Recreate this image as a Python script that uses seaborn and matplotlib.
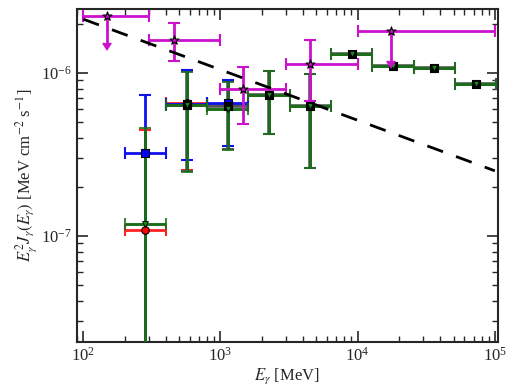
import numpy as np
import pandas as pd
import matplotlib
matplotlib.use("Agg")
import matplotlib.pyplot as plt
import seaborn as sns

# ---- data ----
bin_lo = [200, 400, 800, 1600, 3200, 6400, 12800, 25600, 51200]
bin_hi = [400, 800, 1600, 3200, 6400, 12800, 25600, 51200, 102400]
bin_c = [283, 566, 1131, 2263, 4525, 9051, 18102, 36204, 72408]

# red circles (bins 1-2)
red_y = [1.09e-7, 6.5e-7]
red_up = [4.5e-7, 1.03e-6]
red_dn = [1e-9, 2.54e-7]

# blue squares (bins 1-3)
blue_y = [3.23e-7, 6.45e-7, 6.5e-7]
blue_up = [7.33e-7, 1.04e-6, 9.06e-7]
blue_dn = [1e-9, 2.92e-7, 3.56e-7]

# green triangles (bins 1-9)
green_y = [1.18e-7, 6.35e-7, 6.05e-7, 7.33e-7, 6.27e-7, 1.31e-6, 1.10e-6, 1.08e-6, 8.52e-7]
green_up = [4.6e-7, 1.02e-6, 8.8e-7, 1.03e-6, 9.86e-7, 1.31e-6, 1.10e-6, 1.08e-6, 8.52e-7]
green_dn = [1e-9, 2.47e-7, 3.37e-7, 4.22e-7, 2.61e-7, 1.31e-6, 1.10e-6, 1.08e-6, 8.52e-7]

# black squares (bins 2-9)
black_y = [6.4e-7, 6.27e-7, 7.33e-7, 6.27e-7, 1.31e-6, 1.10e-6, 1.08e-6, 8.52e-7]
black_up = [1.03e-6, 8.9e-7, 1.03e-6, 9.86e-7, 1.31e-6, 1.10e-6, 1.08e-6, 8.52e-7]
black_dn = [2.5e-7, 3.4e-7, 4.22e-7, 2.61e-7, 1.31e-6, 1.10e-6, 1.08e-6, 8.52e-7]

# magenta stars
mag_x = [150, 456, 1468, 4490, 17600]
mag_lo = [100, 300, 1000, 3000, 10000]
mag_hi = [300, 1000, 3000, 10000, 100000]
mag_y = [2.24e-6, 1.594e-6, 7.97e-7, 1.136e-6, 1.81e-6]
mag_up = [2.24e-6, 2.03e-6, 1.088e-6, 1.594e-6, 1.81e-6]
mag_dn = [1.53e-6, 1.185e-6, 4.86e-7, 6.73e-7, 1.185e-6]
mag_ul = [True, False, False, False, True]

# dashed power law
line_E = [100, 1e5]
line_y = [2.14e-6, 2.51e-7]

MAG = '#cc11cc'

# ---- style ----
sns.set_style("ticks")
plt.rcParams['font.family'] = ['Liberation Serif', 'DejaVu Serif']
plt.rcParams['mathtext.fontset'] = 'stix'

fig = plt.figure(figsize=(5.1, 3.92), dpi=100)
ax = fig.add_axes([0.151, 0.128, 0.825, 0.849])
ax.set_xscale('log')
ax.set_yscale('log')

def xerr_of(c, lo, hi, idx):
    c = np.array(c); lo = np.array(lo)[idx]; hi = np.array(hi)[idx]
    return [c - lo, hi - c]

def yerr_of(y, up, dn):
    y = np.array(y)
    return [y - np.array(dn), np.array(up) - y]

ekw = dict(fmt='none', elinewidth=2, capsize=4, capthick=1.5)

# red
idx = [0, 1]
ax.errorbar(np.array(bin_c)[idx], red_y, xerr=xerr_of(np.array(bin_c)[idx], bin_lo, bin_hi, idx),
            yerr=yerr_of(red_y, red_up, red_dn), ecolor='#ff2020', zorder=2, **ekw)
# black (gray bars)
idx = list(range(1, 9))
ax.errorbar(np.array(bin_c)[idx], black_y, xerr=xerr_of(np.array(bin_c)[idx], bin_lo, bin_hi, idx),
            yerr=yerr_of(black_y, black_up, black_dn), ecolor='#555555', zorder=3,
            fmt='none', elinewidth=2.6, capsize=4, capthick=1.5)
# blue
idx = [0, 1, 2]
ax.errorbar(np.array(bin_c)[idx], blue_y, xerr=xerr_of(np.array(bin_c)[idx], bin_lo, bin_hi, idx),
            yerr=yerr_of(blue_y, blue_up, blue_dn), ecolor='#1010ee', zorder=3.5, **ekw)
# green
idx = list(range(9))
ax.errorbar(np.array(bin_c)[idx], green_y, xerr=xerr_of(np.array(bin_c)[idx], bin_lo, bin_hi, idx),
            yerr=yerr_of(green_y, green_up, green_dn), ecolor='#1a6e1a', zorder=4,
            fmt='none', elinewidth=2.1, capsize=4, capthick=1.2)

# markers via seaborn
df_red = pd.DataFrame({'E': bin_c[:2], 'y': red_y})
df_blue = pd.DataFrame({'E': bin_c[:3], 'y': blue_y})
df_black = pd.DataFrame({'E': bin_c[1:], 'y': black_y})
df_green = pd.DataFrame({'E': bin_c, 'y': green_y})
sns.scatterplot(data=df_red, x='E', y='y', ax=ax, marker='o', color='red', edgecolor='black',
                s=30, linewidth=0.8, zorder=5)
sns.scatterplot(data=df_blue, x='E', y='y', ax=ax, marker='s', color='#0000ff', edgecolor='black',
                s=35, linewidth=0.8, zorder=5)
sns.scatterplot(data=df_black, x='E', y='y', ax=ax, marker='s', color='black', edgecolor='black',
                s=40, linewidth=0.8, zorder=6)
sns.scatterplot(data=df_green, x='E', y='y', ax=ax, marker='v', color='#1a8a1a', edgecolor='black',
                s=18, linewidth=0.6, zorder=7)

# magenta
mx = np.array(mag_x); my = np.array(mag_y)
mxerr = [mx - np.array(mag_lo), np.array(mag_hi) - mx]
myerr = [my - np.array(mag_dn), np.array(mag_up) - my]
cont = ax.errorbar(mx, my, xerr=mxerr, yerr=myerr, uplims=mag_ul, fmt='none', ecolor=MAG,
                   color=MAG, elinewidth=2, capsize=4, capthick=1.5, zorder=8)
for cl in cont[1]:
    if cl.get_marker() not in ('|', '_'):
        cl.set_markersize(6)
        cl.set_markerfacecolor(MAG)
        cl.set_markeredgecolor(MAG)
        cl.set_color(MAG)
df_mag = pd.DataFrame({'E': mag_x, 'y': mag_y})
sns.scatterplot(data=df_mag, x='E', y='y', ax=ax, marker='*', color=MAG, edgecolor='black',
                s=45, linewidth=0.8, zorder=9)

# dashed line
df_line = pd.DataFrame({'E': line_E, 'y': line_y})
sns.lineplot(data=df_line, x='E', y='y', ax=ax, color='black', lw=2, zorder=10)
ax.lines[-1].set_dashes([6, 5])

ax.set_xlim(90, 1.05e5)
ax.set_ylim(2.24e-8, 2.47e-6)
ax.set_xlabel(r'$E_\gamma$ [MeV]', fontsize=12, labelpad=1)
ax.set_ylabel(r'$E_\gamma^2 J_\gamma(E_\gamma)$ [MeV cm$^{-2}$ s$^{-1}$]', fontsize=12, labelpad=2)
ax.tick_params(which='both', direction='in', top=True, right=True, labelsize=12)
ax.tick_params(which='major', length=8, width=1.2)
ax.tick_params(which='minor', length=4, width=1)
for s in ax.spines.values():
    s.set_linewidth(1.5)
if ax.get_legend():
    ax.get_legend().remove()

fig.savefig('out.png', dpi=100)
